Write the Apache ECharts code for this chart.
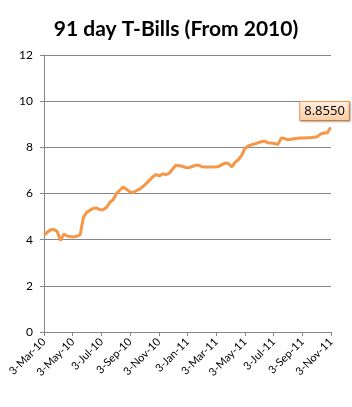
<!DOCTYPE html>
<html>
<head>
<meta charset="utf-8">
<script src="https://cdn.jsdelivr.net/npm/echarts@6/dist/echarts.min.js"></script>
<style>
  html, body { margin: 0; padding: 0; background: #fff; }
  #chart { width: 352px; height: 407px; }
</style>
</head>
<body>
<div id="chart"></div>
<script>
// weekly 91-day T-bill yields, first auction 3-Mar-10
const startDate = "3-Mar-10";
const stepDays = 7;
const yields = [
  4.20, 4.32, 4.43, 4.44, 4.36, 3.96, 4.24, 4.16, 4.14, 4.12,
  4.15, 4.22, 4.98, 5.19, 5.28, 5.36, 5.37, 5.30, 5.30, 5.40,
  5.62, 5.73, 6.00, 6.14, 6.28, 6.19, 6.08, 6.04, 6.12, 6.19,
  6.30, 6.43, 6.57, 6.72, 6.82, 6.76, 6.85, 6.82, 6.87, 7.05,
  7.22, 7.20, 7.18, 7.13, 7.12, 7.17, 7.22, 7.22, 7.16, 7.15,
  7.15, 7.15, 7.15, 7.17, 7.25, 7.32, 7.30, 7.15, 7.35, 7.46,
  7.65, 7.95, 8.06, 8.11, 8.15, 8.20, 8.24, 8.27, 8.19, 8.19,
  8.17, 8.12, 8.40, 8.38, 8.33, 8.35, 8.37, 8.39, 8.40, 8.40,
  8.41, 8.42, 8.44, 8.46, 8.58, 8.62, 8.62, 8.855
];
// x axis: one tick every two months (~61 days)
const tickDays = 61;
const tickLabels = [
  "3-Mar-10", "3-May-10", "3-Jul-10", "3-Sep-10", "3-Nov-10", "3-Jan-11",
  "3-Mar-11", "3-May-11", "3-Jul-11", "3-Sep-11", "3-Nov-11"
];
const yTicks = [0, 2, 4, 6, 8, 10, 12];

let chartDom = document.getElementById("chart");
let myChart = echarts.init(chartDom);

// only the last point gets a (tiny) symbol so its label can show
let seriesData = yields.map((v, i) => {
  let item = { value: [i * stepDays, v], symbol: "none" };
  if (i === yields.length - 1) {
    item.symbol = "circle";
    item.symbolSize = 1;
    item.label = {
      show: true,
      position: "top",
      distance: 7,
      offset: [-6, 0],
      formatter: v.toFixed(4),
      fontFamily: "Open Sans",
      fontSize: 13,
      color: "#000",
      backgroundColor: {
        type: "linear", x: 0, y: 0, x2: 0, y2: 1,
        colorStops: [
          { offset: 0, color: "#fff1e4" },
          { offset: 1, color: "#fbcb9f" },
        ],
      },
      borderColor: "#f79646",
      borderWidth: 1,
      padding: [3, 4, 2, 4],
      shadowColor: "rgba(0,0,0,0.25)",
      shadowBlur: 2,
      shadowOffsetX: 1,
      shadowOffsetY: 1,
    };
  }
  return item;
});

let option = {
  animation: false,
  title: {
    text: "91 day T-Bills (From 2010)",
    left: "center",
    top: 14,
    textStyle: {
      fontFamily: "Lato",
      fontWeight: "bold",
      fontSize: 21,
      color: "#000",
    },
  },
  grid: {
    left: 44,
    right: 21,
    top: 55,
    bottom: 75,
  },
  xAxis: {
    type: "value",
    min: 0,
    max: tickDays * (tickLabels.length - 1),
    interval: tickDays,
    axisLine: { show: true, lineStyle: { color: "#868686", width: 1 } },
    axisTick: { show: true, length: 4, lineStyle: { color: "#868686" } },
    splitLine: { show: false },
    axisLabel: {
      rotate: 45,
      margin: 8,
      fontFamily: "Lato",
      fontSize: 11,
      color: "#000",
      formatter: (v) => tickLabels[Math.round(v / tickDays)] || "",
    },
  },
  yAxis: {
    type: "value",
    min: yTicks[0],
    max: yTicks[yTicks.length - 1],
    interval: 2,
    axisLine: { show: true, lineStyle: { color: "#868686", width: 1 } },
    axisTick: { show: true, length: 4, lineStyle: { color: "#868686" } },
    splitLine: { show: true, lineStyle: { color: "#868686", width: 1 } },
    axisLabel: {
      margin: 11,
      fontFamily: "Lato",
      fontSize: 12,
      color: "#000",
    },
  },
  series: [
    {
      type: "line",
      data: seriesData,
      showSymbol: true,
      showAllSymbol: true,
      lineStyle: { color: "#f79646", width: 3 },
      itemStyle: { color: "#f79646" },
    },
  ],
};

option && myChart.setOption(option);
</script>
</body>
</html>
